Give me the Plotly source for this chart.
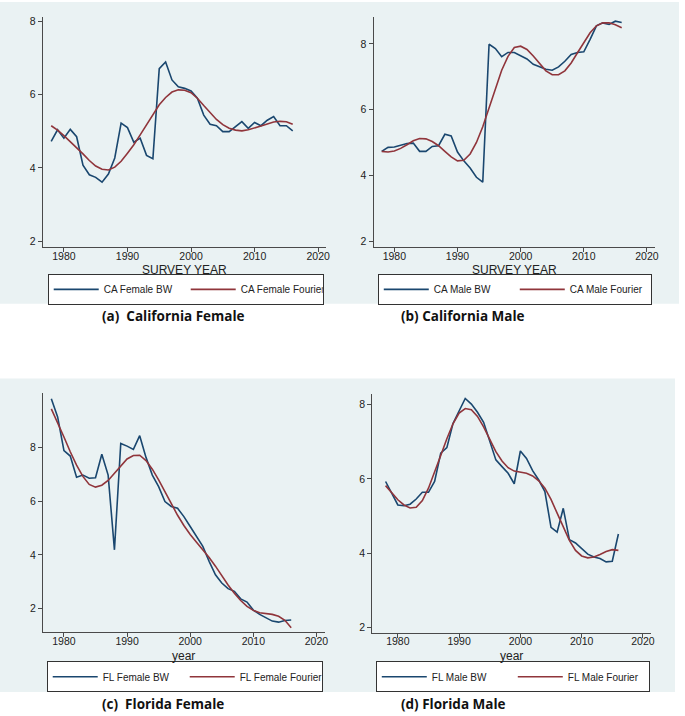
import plotly.graph_objects as go

# ---------------- data ----------------
years = list(range(1978, 2017))

ca_female_bw = [4.72, 5.04, 4.81, 5.05, 4.85, 4.07, 3.81, 3.74, 3.61, 3.83,
                4.27, 5.22, 5.10, 4.70, 4.81, 4.34, 4.25, 6.71, 6.89, 6.40,
                6.21, 6.17, 6.10, 5.90, 5.44, 5.19, 5.15, 4.99, 4.99, 5.13,
                5.26, 5.08, 5.24, 5.15, 5.30, 5.40, 5.15, 5.15, 5.01]
ca_female_fourier = [5.15, 5.03, 4.88, 4.72, 4.55, 4.38, 4.20, 4.05, 3.96, 3.94,
                     4.02, 4.18, 4.40, 4.63, 4.90, 5.18, 5.45, 5.72, 5.92, 6.07,
                     6.13, 6.12, 6.05, 5.90, 5.70, 5.50, 5.32, 5.18, 5.08, 5.03,
                     5.01, 5.04, 5.08, 5.14, 5.20, 5.25, 5.27, 5.26, 5.19]

ca_male_bw = [4.73, 4.85, 4.86, 4.91, 4.97, 4.98, 4.73, 4.73, 4.88, 4.90,
              5.25, 5.20, 4.71, 4.44, 4.22, 3.94, 3.79, 7.99, 7.86, 7.61,
              7.74, 7.74, 7.63, 7.54, 7.38, 7.30, 7.23, 7.20, 7.30, 7.47,
              7.68, 7.74, 7.76, 8.14, 8.55, 8.64, 8.59, 8.69, 8.65]
ca_male_fourier = [4.73, 4.71, 4.74, 4.82, 4.93, 5.05, 5.12, 5.11, 5.03, 4.90,
                   4.73, 4.56, 4.44, 4.46, 4.65, 5.00, 5.48, 6.05, 6.65, 7.20,
                   7.62, 7.89, 7.93, 7.83, 7.63, 7.40, 7.18, 7.06, 7.06, 7.18,
                   7.42, 7.73, 8.05, 8.34, 8.55, 8.64, 8.64, 8.58, 8.49]

fl_female_bw = [9.83, 9.15, 7.89, 7.69, 6.90, 6.98, 6.86, 6.88, 7.76, 6.98,
                4.19, 8.16, 8.06, 7.94, 8.45, 7.64, 6.98, 6.55, 5.99, 5.81,
                5.74, 5.43, 5.06, 4.69, 4.32, 3.76, 3.26, 2.95, 2.74, 2.64,
                2.36, 2.24, 1.94, 1.78, 1.65, 1.53, 1.49, 1.55, 1.57]
fl_female_fourier = [9.45, 8.95, 8.40, 7.85, 7.35, 6.93, 6.63, 6.53, 6.60, 6.78,
                     7.05, 7.33, 7.58, 7.71, 7.72, 7.52, 7.20, 6.80, 6.35, 5.90,
                     5.48, 5.10, 4.76, 4.47, 4.20, 3.90, 3.58, 3.22, 2.88, 2.57,
                     2.30, 2.08, 1.93, 1.84, 1.81, 1.78, 1.71, 1.56, 1.28]

fl_male_bw = [5.93, 5.60, 5.30, 5.28, 5.32, 5.46, 5.64, 5.64, 5.93, 6.69,
              6.84, 7.49, 7.83, 8.16, 8.01, 7.79, 7.52, 7.04, 6.51, 6.33,
              6.15, 5.87, 6.75, 6.55, 6.22, 5.97, 5.66, 4.70, 4.57, 5.21,
              4.37, 4.28, 4.14, 3.98, 3.90, 3.86, 3.77, 3.79, 4.52]
fl_male_fourier = [5.82, 5.62, 5.44, 5.30, 5.22, 5.24, 5.42, 5.75, 6.17, 6.63,
                   7.08, 7.48, 7.77, 7.89, 7.86, 7.68, 7.40, 7.05, 6.73, 6.48,
                   6.30, 6.21, 6.18, 6.15, 6.08, 5.95, 5.75, 5.45, 5.08, 4.70,
                   4.35, 4.08, 3.93, 3.88, 3.90, 3.97, 4.05, 4.10, 4.08]

x_ticks = [1980, 1990, 2000, 2010, 2020]
y_ticks = [2, 4, 6, 8]

series_names = [
    ("CA Female BW", "CA Female Fourier"),
    ("CA Male BW", "CA Male Fourier"),
    ("FL Female BW", "FL Female Fourier"),
    ("FL Male BW", "FL Male Fourier"),
]
x_titles = ["SURVEY YEAR", "SURVEY YEAR", "year", "year"]
captions = ["(a)\u00a0\u00a0California Female", "(b) California Male",
            "(c)\u00a0\u00a0Florida Female", "(d) Florida Male"]

# ---------------- layout ----------------
W, H = 685, 716
BG = "#eaf2f3"
BLUE = "#1a476f"
RED = "#90353b"
AXC = "#4a4a4a"
FONT = "Liberation Sans, Arial, sans-serif"

bw_series = [ca_female_bw, ca_male_bw, fl_female_bw, fl_male_bw]
fo_series = [ca_female_fourier, ca_male_fourier, fl_female_fourier, fl_male_fourier]

# plot boxes in pixels: left, right, top, bottom
boxes = [(43, 328, 15, 246), (375.7, 659, 15, 246),
         (43.3, 326.7, 393, 633), (374.3, 655, 393.3, 633.3)]
xranges = [[1976.67, 2021.25], [1976.7, 2021.3], [1976.69, 2021.32], [1975.8, 2021.35]]
yranges = [[1.84, 8.12], [1.82, 8.82], [1.11, 10.03], [1.87, 8.29]]
legend_pos = [(48, 273, 77), (380, 273, 76), (47, 662, 77), (378, 662, 76)]
title_y = [269, 269, 656.5, 656.5]
caption_pos = [(100.7, 315.7), (401, 315.7), (100.7, 705), (401, 705)]

fig = go.Figure()
layout = dict(
    width=W, height=H, margin=dict(l=0, r=0, t=0, b=0),
    paper_bgcolor="white", plot_bgcolor="white",
    font=dict(family=FONT, color="#222"),
    shapes=[
        dict(type="rect", xref="paper", yref="paper", x0=0, x1=683 / W,
             y0=1 - 303 / H, y1=1, fillcolor=BG, line=dict(width=0), layer="below"),
        dict(type="rect", xref="paper", yref="paper", x0=0, x1=679 / W,
             y0=1 - 693 / H, y1=1 - 378 / H, fillcolor=BG, line=dict(width=0), layer="below"),
    ],
    annotations=[],
)

for i in range(4):
    sfx = "" if i == 0 else str(i + 1)
    leg = "legend" if i == 0 else "legend" + str(i + 1)
    l, r, t, b = boxes[i]
    n1, n2 = series_names[i]
    fig.add_trace(go.Scatter(x=years, y=bw_series[i], mode="lines", name=n1,
                             line=dict(color=BLUE, width=1.6),
                             xaxis="x" + sfx, yaxis="y" + sfx, legend=leg))
    fig.add_trace(go.Scatter(x=years, y=fo_series[i], mode="lines", name=n2,
                             line=dict(color=RED, width=1.6),
                             xaxis="x" + sfx, yaxis="y" + sfx, legend=leg))
    layout["xaxis" + sfx] = dict(
        domain=[l / W, r / W], range=xranges[i], anchor="y" + sfx,
        tickvals=x_ticks, ticks="outside", ticklen=4, tickcolor=AXC, tickwidth=1,
        showline=True, linecolor=AXC, linewidth=1, showgrid=False, zeroline=False,
        ticklabelstandoff=-5,
        tickfont=dict(size=10.5, family=FONT, color="#222"), fixedrange=True)
    layout["yaxis" + sfx] = dict(
        domain=[1 - b / H, 1 - t / H], range=yranges[i], anchor="x" + sfx,
        tickvals=y_ticks, ticks="outside", ticklen=4, tickcolor=AXC, tickwidth=1,
        showline=True, linecolor=AXC, linewidth=1, showgrid=True, gridcolor=BG,
        gridwidth=1.2, zeroline=False,
        tickfont=dict(size=10.5, family=FONT, color="#222"), fixedrange=True)
    lx, ly, ew = legend_pos[i]
    layout[leg] = dict(
        orientation="h", x=lx / W, xanchor="left", y=1 - ly / H, yanchor="top",
        bgcolor="white", bordercolor="#333", borderwidth=1, itemwidth=45,
        font=dict(size=10, family=FONT, color="#222"),
        entrywidth=ew, entrywidthmode="pixels", itemclick=False, itemdoubleclick=False)
    layout["annotations"].append(dict(
        text=x_titles[i], xref="paper", yref="paper", x=(l + r) / 2 / W,
        y=1 - title_y[i] / H, xanchor="center", yanchor="middle", showarrow=False,
        font=dict(size=12, family=FONT, color="#222")))
    cx, cy = caption_pos[i]
    layout["annotations"].append(dict(
        text="<b>" + captions[i] + "</b>", xref="paper", yref="paper", x=cx / W,
        y=1 - cy / H, xanchor="left", yanchor="middle", showarrow=False,
        font=dict(size=13.5, family="Open Sans, sans-serif", color="#111")))

fig.update_layout(**layout)
fig.write_html("out.html", config={"displayModeBar": False},
               post_script="document.body.style.margin='0';document.documentElement.style.overflow='hidden';")
